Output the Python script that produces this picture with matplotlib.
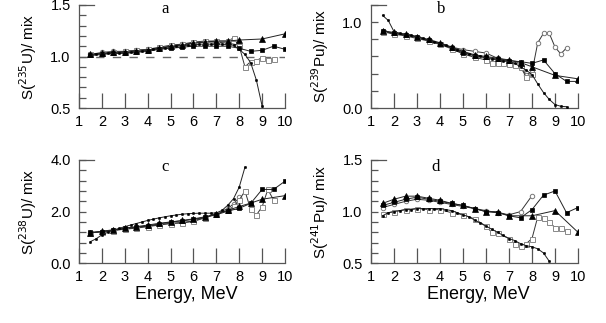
import matplotlib
matplotlib.use("Agg")
import matplotlib.pyplot as plt
from matplotlib.ticker import MultipleLocator

# ---------------- data ----------------
# panel a : S(235U)/mix
a_dot_x = [1.5,1.75,2,2.25,2.5,2.75,3,3.25,3.5,3.75,4,4.25,4.5,4.75,5,5.25,5.5,5.75,6,6.25,6.5,6.75,7,7.25,7.5,7.75,8,8.25,8.5,8.75,9]
a_dot_y = [1.01,1.02,1.03,1.03,1.03,1.03,1.04,1.04,1.05,1.05,1.06,1.07,1.07,1.08,1.09,1.10,1.10,1.11,1.11,1.12,1.12,1.12,1.12,1.12,1.11,1.11,1.07,1.02,0.94,0.77,0.52]
a_sq_x = [1.5,2,2.5,3,3.5,4,4.5,5,5.5,6,6.5,7,7.5,8,8.5,9,9.5,10]
a_sq_y = [1.01,1.02,1.03,1.03,1.04,1.05,1.07,1.08,1.09,1.10,1.10,1.10,1.10,1.08,1.05,1.06,1.10,1.07]
a_tri_x = [1.5,2,2.5,3,3.5,4,4.5,5,5.5,6,6.5,7,7.5,8,9,10]
a_tri_y = [1.02,1.03,1.04,1.04,1.05,1.06,1.08,1.10,1.11,1.13,1.14,1.15,1.15,1.16,1.17,1.22]
a_osq_x = [1.5,2,2.5,3,3.5,4,4.5,5,5.5,6,6.5,7,7.5,7.75,8,8.25,8.5,8.75,9,9.25,9.5]
a_osq_y = [1.02,1.03,1.04,1.05,1.06,1.07,1.09,1.11,1.12,1.14,1.15,1.15,1.15,1.18,1.10,0.90,0.95,0.96,0.99,0.97,0.98]
a_oci_x = [1.5,2,2.5,3,3.5,4,4.5,5,5.5,6,6.5,7,7.5,8]
a_oci_y = [1.02,1.04,1.05,1.05,1.06,1.07,1.08,1.10,1.12,1.13,1.14,1.14,1.13,1.11]

# panel b : S(239Pu)/mix
b_dot_x = [1.5,1.75,2,2.25,2.5,2.75,3,3.25,3.5,3.75,4,4.25,4.5,4.75,5,5.25,5.5,5.75,6,6.25,6.5,6.75,7,7.25,7.5,7.75,8,8.25,8.5,8.75,9,9.25,9.5]
b_dot_y = [1.08,1.02,0.89,0.87,0.86,0.85,0.83,0.81,0.79,0.77,0.75,0.73,0.70,0.68,0.65,0.63,0.61,0.60,0.58,0.57,0.56,0.55,0.54,0.52,0.48,0.44,0.39,0.28,0.18,0.10,0.04,0.02,0.015]
b_sq_x = [1.5,2,2.5,3,3.5,4,4.5,5,5.5,6,6.5,7,7.5,8,8.5,9,9.5,10]
b_sq_y = [0.90,0.87,0.85,0.83,0.79,0.75,0.70,0.64,0.61,0.59,0.57,0.55,0.54,0.52,0.56,0.40,0.31,0.31]
b_tri_x = [1.5,2,2.5,3,3.5,4,4.5,5,5.5,6,6.5,7,7.5,8,9,10]
b_tri_y = [0.90,0.88,0.86,0.83,0.80,0.76,0.71,0.66,0.62,0.60,0.58,0.56,0.53,0.48,0.38,0.34]
b_osq_x = [1.5,2,2.5,3,3.5,4,4.5,5,5.5,6,6.25,6.5,6.75,7,7.25,7.5,7.75,8]
b_osq_y = [0.89,0.86,0.84,0.81,0.78,0.74,0.69,0.63,0.59,0.56,0.53,0.52,0.52,0.51,0.50,0.48,0.36,0.40]
b_oci_x = [1.5,2,2.5,3,3.5,4,4.5,5,5.5,6,6.5,7,7.25,7.5,7.75,8,8.25,8.5,8.75,9,9.25,9.5]
b_oci_y = [0.89,0.87,0.85,0.82,0.79,0.75,0.71,0.68,0.66,0.64,0.58,0.55,0.52,0.48,0.39,0.42,0.76,0.87,0.87,0.71,0.63,0.70]

# panel c : S(238U)/mix
c_dot_x = [1.5,1.75,2,2.25,2.5,2.75,3,3.25,3.5,3.75,4,4.25,4.5,4.75,5,5.25,5.5,5.75,6,6.25,6.5,6.75,7,7.25,7.5,7.75,8,8.25]
c_dot_y = [0.84,0.95,1.10,1.20,1.28,1.35,1.42,1.48,1.54,1.60,1.66,1.71,1.76,1.80,1.84,1.87,1.90,1.92,1.93,1.94,1.94,1.94,1.95,2.05,2.25,2.50,2.95,3.72]
c_sq_x = [1.5,2,2.5,3,3.5,4,4.5,5,5.5,6,6.5,7,7.5,8,8.5,9,9.5,10]
c_sq_y = [1.20,1.22,1.28,1.35,1.40,1.45,1.52,1.60,1.64,1.70,1.78,1.88,2.02,2.13,2.32,2.86,2.86,3.18]
c_tri_x = [1.5,2,2.5,3,3.5,4,4.5,5,5.5,6,6.5,7,7.5,8,8.5,9,10]
c_tri_y = [1.18,1.24,1.30,1.36,1.42,1.48,1.55,1.60,1.66,1.72,1.80,1.90,2.05,2.20,2.33,2.48,2.62]
c_osq_x = [1.5,2,2.5,3,3.5,4,4.5,5,5.5,6,6.5,7,7.5,7.75,8,8.25,8.5,8.75,9,9.25,9.5]
c_osq_y = [1.18,1.22,1.27,1.32,1.36,1.42,1.48,1.54,1.56,1.62,1.76,1.92,2.05,2.20,2.45,2.80,2.09,1.87,2.19,2.86,2.45]
c_oci_x = [1.5,2,2.5,3,3.5,4,4.5,5,5.5,6,6.5,7,7.5,7.75,8]
c_oci_y = [1.18,1.23,1.28,1.33,1.38,1.44,1.50,1.55,1.58,1.64,1.78,1.92,2.12,2.30,2.55]

# panel d : S(241Pu)/mix
d_dot_x = [1.5,1.75,2,2.25,2.5,2.75,3,3.25,3.5,3.75,4,4.25,4.5,4.75,5,5.25,5.5,5.75,6,6.25,6.5,6.75,7,7.25,7.5,7.75,8,8.25,8.5,8.75]
d_dot_y = [0.96,0.99,1.00,1.01,1.02,1.02,1.03,1.03,1.03,1.03,1.03,1.02,1.01,0.99,0.97,0.95,0.92,0.89,0.86,0.83,0.80,0.77,0.74,0.72,0.69,0.67,0.66,0.64,0.60,0.52]
d_sq_x = [1.5,2,2.5,3,3.5,4,4.5,5,5.5,6,6.5,7,7.5,8,8.5,9,9.5,10]
d_sq_y = [1.06,1.09,1.12,1.14,1.12,1.10,1.08,1.06,1.03,1.00,0.99,0.96,0.94,1.02,1.16,1.20,0.99,1.04]
d_tri_x = [1.5,2,2.5,3,3.5,4,4.5,5,5.5,6,6.5,7,8,9,10]
d_tri_y = [1.08,1.12,1.15,1.15,1.13,1.11,1.08,1.06,1.03,1.00,1.00,0.96,0.96,1.01,0.80]
d_osq_x = [1.5,2,2.5,3,3.5,4,4.5,5,5.5,6,6.25,6.5,7,7.25,7.5,7.75,8,8.25,8.5,8.75,9,9.25,9.5]
d_osq_y = [0.98,1.00,1.02,1.03,1.02,1.02,0.99,0.97,0.93,0.86,0.80,0.79,0.74,0.69,0.67,0.69,0.74,0.95,0.935,0.90,0.845,0.84,0.81]
d_oci_x = [1.5,2,2.5,3,3.5,4,4.5,5,5.5,6,6.5,7,7.5,8]
d_oci_y = [1.04,1.07,1.10,1.12,1.11,1.09,1.07,1.05,1.03,1.01,0.99,0.97,1.00,1.155]

panels = [
    dict(letter="a", isotope="235", elem="U", ylim=(0.5, 1.5), major=0.5, minor=0.1, fmt="{:.1f}",
         series=[(a_oci_x, a_oci_y), (a_osq_x, a_osq_y), (a_tri_x, a_tri_y), (a_sq_x, a_sq_y), (a_dot_x, a_dot_y)],
         letter_pos=(0.42, 0.96), ref=1.0),
    dict(letter="b", isotope="239", elem="Pu", ylim=(0.0, 1.2), major=1.0, minor=0.2, fmt="{:.1f}",
         series=[(b_oci_x, b_oci_y), (b_osq_x, b_osq_y), (b_tri_x, b_tri_y), (b_sq_x, b_sq_y), (b_dot_x, b_dot_y)],
         letter_pos=(0.34, 0.96), ref=None),
    dict(letter="c", isotope="238", elem="U", ylim=(0.0, 4.0), major=2.0, minor=0.4, fmt="{:.1f}",
         series=[(c_oci_x, c_oci_y), (c_osq_x, c_osq_y), (c_tri_x, c_tri_y), (c_sq_x, c_sq_y), (c_dot_x, c_dot_y)],
         letter_pos=(0.42, 0.93), ref=None),
    dict(letter="d", isotope="241", elem="Pu", ylim=(0.5, 1.5), major=0.5, minor=0.1, fmt="{:.1f}",
         series=[(d_oci_x, d_oci_y), (d_osq_x, d_osq_y), (d_tri_x, d_tri_y), (d_sq_x, d_sq_y), (d_dot_x, d_dot_y)],
         letter_pos=(0.31, 0.93), ref=None),
]

styles = [
    dict(marker="o", ms=3.2, mfc="white", mec="#777777", mew=0.7, color="#333333", lw=0.7),
    dict(marker="s", ms=3.6, mfc="white", mec="#888888", mew=0.7, color="#333333", lw=0.7),
    dict(marker="^", ms=4.0, mfc="black", mec="black", mew=0.5, color="#222222", lw=0.7),
    dict(marker="s", ms=3.2, mfc="black", mec="black", mew=0.5, color="#222222", lw=0.7),
    dict(marker="o", ms=1.8, mfc="black", mec="black", mew=0.3, color="#222222", lw=0.7),
]

plt.rcParams['font.family'] = ['Liberation Sans', 'DejaVu Sans']
fig = plt.figure(figsize=(6.06, 3.23), dpi=100)

W, H = 606.0, 323.0
boxes = [(79, 5, 285, 108), (371, 5, 578, 108), (79, 160, 285, 263.3), (371, 160, 578, 263.3)]
spine_c = "#555555"

for p, (x0, y0, x1, y1) in zip(panels, boxes):
    ax = fig.add_axes([x0 / W, 1 - y1 / H, (x1 - x0) / W, (y1 - y0) / H])
    ax.set_xlim(1, 10)
    ax.set_ylim(*p["ylim"])
    if p["ref"] is not None:
        ax.axhline(p["ref"], color="#666666", lw=1.0, ls=(0, (6, 6)), zorder=1)
    for (xs, ys), st in zip(p["series"], styles):
        ax.plot(xs, ys, marker=st["marker"], ms=st["ms"], mfc=st["mfc"], mec=st["mec"],
                mew=st["mew"], color=st["color"], lw=st["lw"], zorder=3)
    ax.spines["right"].set_visible(False)
    ax.spines["top"].set_bounds(1, 1.65)
    for s in ["left", "bottom", "top"]:
        ax.spines[s].set_color(spine_c)
        ax.spines[s].set_linewidth(0.9)
    ax.xaxis.set_major_locator(MultipleLocator(1))
    ax.yaxis.set_major_locator(MultipleLocator(p["major"]))
    ax.yaxis.set_minor_locator(MultipleLocator(p["minor"]))
    ax.tick_params(axis="x", direction="in", length=10.5, width=0.9, color=spine_c,
                   labelsize=10.5, pad=5)
    ax.tick_params(axis="y", which="both", direction="in", length=5, width=0.9, color=spine_c,
                   labelsize=10.5, pad=6)
    ax.yaxis.set_major_formatter(matplotlib.ticker.FuncFormatter(lambda v, pos, f=p["fmt"]: f.format(v)))
    ax.set_ylabel("S($^{%s}$%s)/ mix" % (p["isotope"], p["elem"]), fontsize=11)
    ax.yaxis.set_label_coords(-0.195, 0.5)
    ax.text(p["letter_pos"][0], p["letter_pos"][1], p["letter"], transform=ax.transAxes,
            ha="center", va="center", fontsize=12, family="Liberation Serif")
    if p["letter"] in ("c", "d"):
        ax.set_xlabel("Energy, MeV", fontsize=13)
        ax.xaxis.set_label_coords(0.52, -0.215)

fig.savefig("out.png", dpi=100)
